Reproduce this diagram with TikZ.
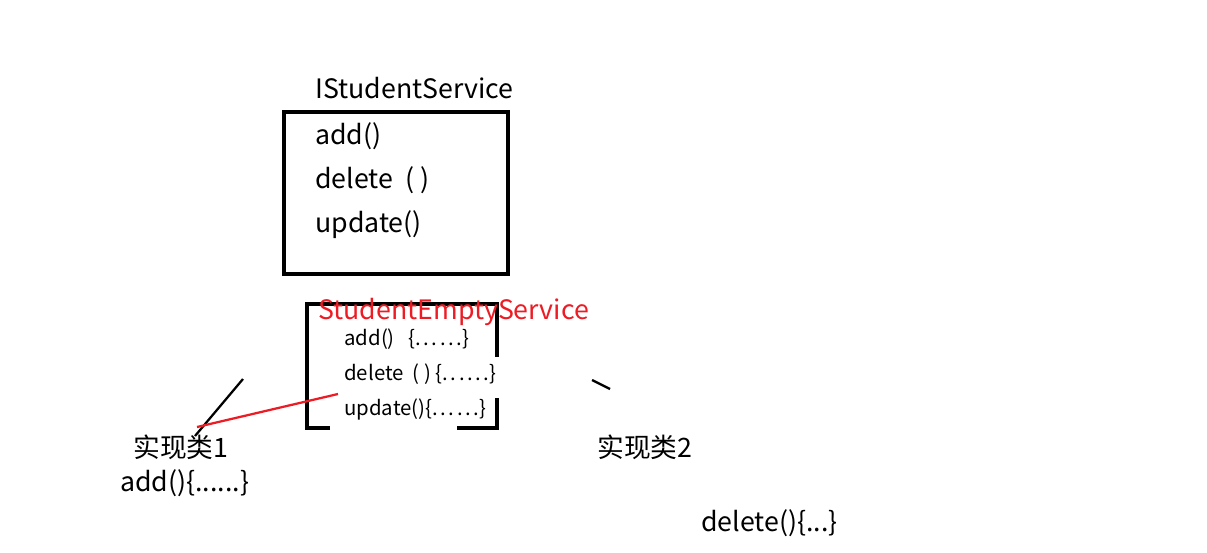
\documentclass[tikz,border=0pt]{standalone}
\usepackage{fontspec}
\setmainfont{Noto Sans CJK SC}
\usepackage{tikz}
\definecolor{penred}{RGB}{237,28,36}
\newcommand\wdots{.\kern1.8pt.\kern1.8pt.\kern1.8pt.\kern1.8pt.\kern1.8pt.}

\begin{document}
\begin{tikzpicture}[x=0.025cm,y=-0.025cm,line cap=butt]
  \tikzstyle{big}=[anchor=base west,inner sep=0pt,font=\fontsize{19}{22}\selectfont]
  \tikzstyle{small}=[anchor=base west,inner sep=0pt,font=\fontsize{14.5}{17}\selectfont]
  \tikzstyle{frame}=[line width=2.2pt]
  \useasboundingbox (0,0) rectangle (1207,552);

  % interface
  \node[big]            (iface)  at (315,98)  {IStudentService};
  \draw[frame] (284,112) rectangle (508,274);
  \node[big]            (iadd)   at (315,144) {add()};
  \node[big]            (idel)   at (315,188) {delete\ \ ( )};
  \node[big]            (iupd)   at (315,232) {update()};

  % empty implementation
  \draw[frame] (330,428) -- (307,428) -- (307,304) -- (497,304) -- (497,357);
  \draw[frame] (497,398) -- (497,428) -- (457,428);
  \node[big,text=penred] (empty) at (318,319) {StudentEmptyService};
  \node[small]          (eadd)   at (344,345) {add()\ \ \ \{\wdots\}};
  \node[small]          (edel)   at (344,380) {delete\ \ ( ) \{\wdots\}};
  \node[small]          (eupd)   at (344,415) {update()\{\wdots\}};

  % implementations
  \node[big]            (impl1)  at (133,457) {实现类1};
  \node[big]            (add1)   at (120,491) {add()\{......\}};
  \node[big]            (impl2)  at (597,457) {实现类2};
  \node[big]            (del2)   at (701,531) {delete()\{...\}};

  \coordinate (a1) at (243,379);
  \coordinate (a2) at (195,436);
  \coordinate (r1) at (197,427);
  \coordinate (r2) at (338,394);
  \coordinate (b1) at (592,380);
  \coordinate (b2) at (610,389);
  \draw[line width=1.6pt] (a1) -- (a2);
  \draw[line width=1.6pt,penred] (r1) -- (r2);
  \draw[line width=1.6pt] (b1) -- (b2);
\end{tikzpicture}
\end{document}
